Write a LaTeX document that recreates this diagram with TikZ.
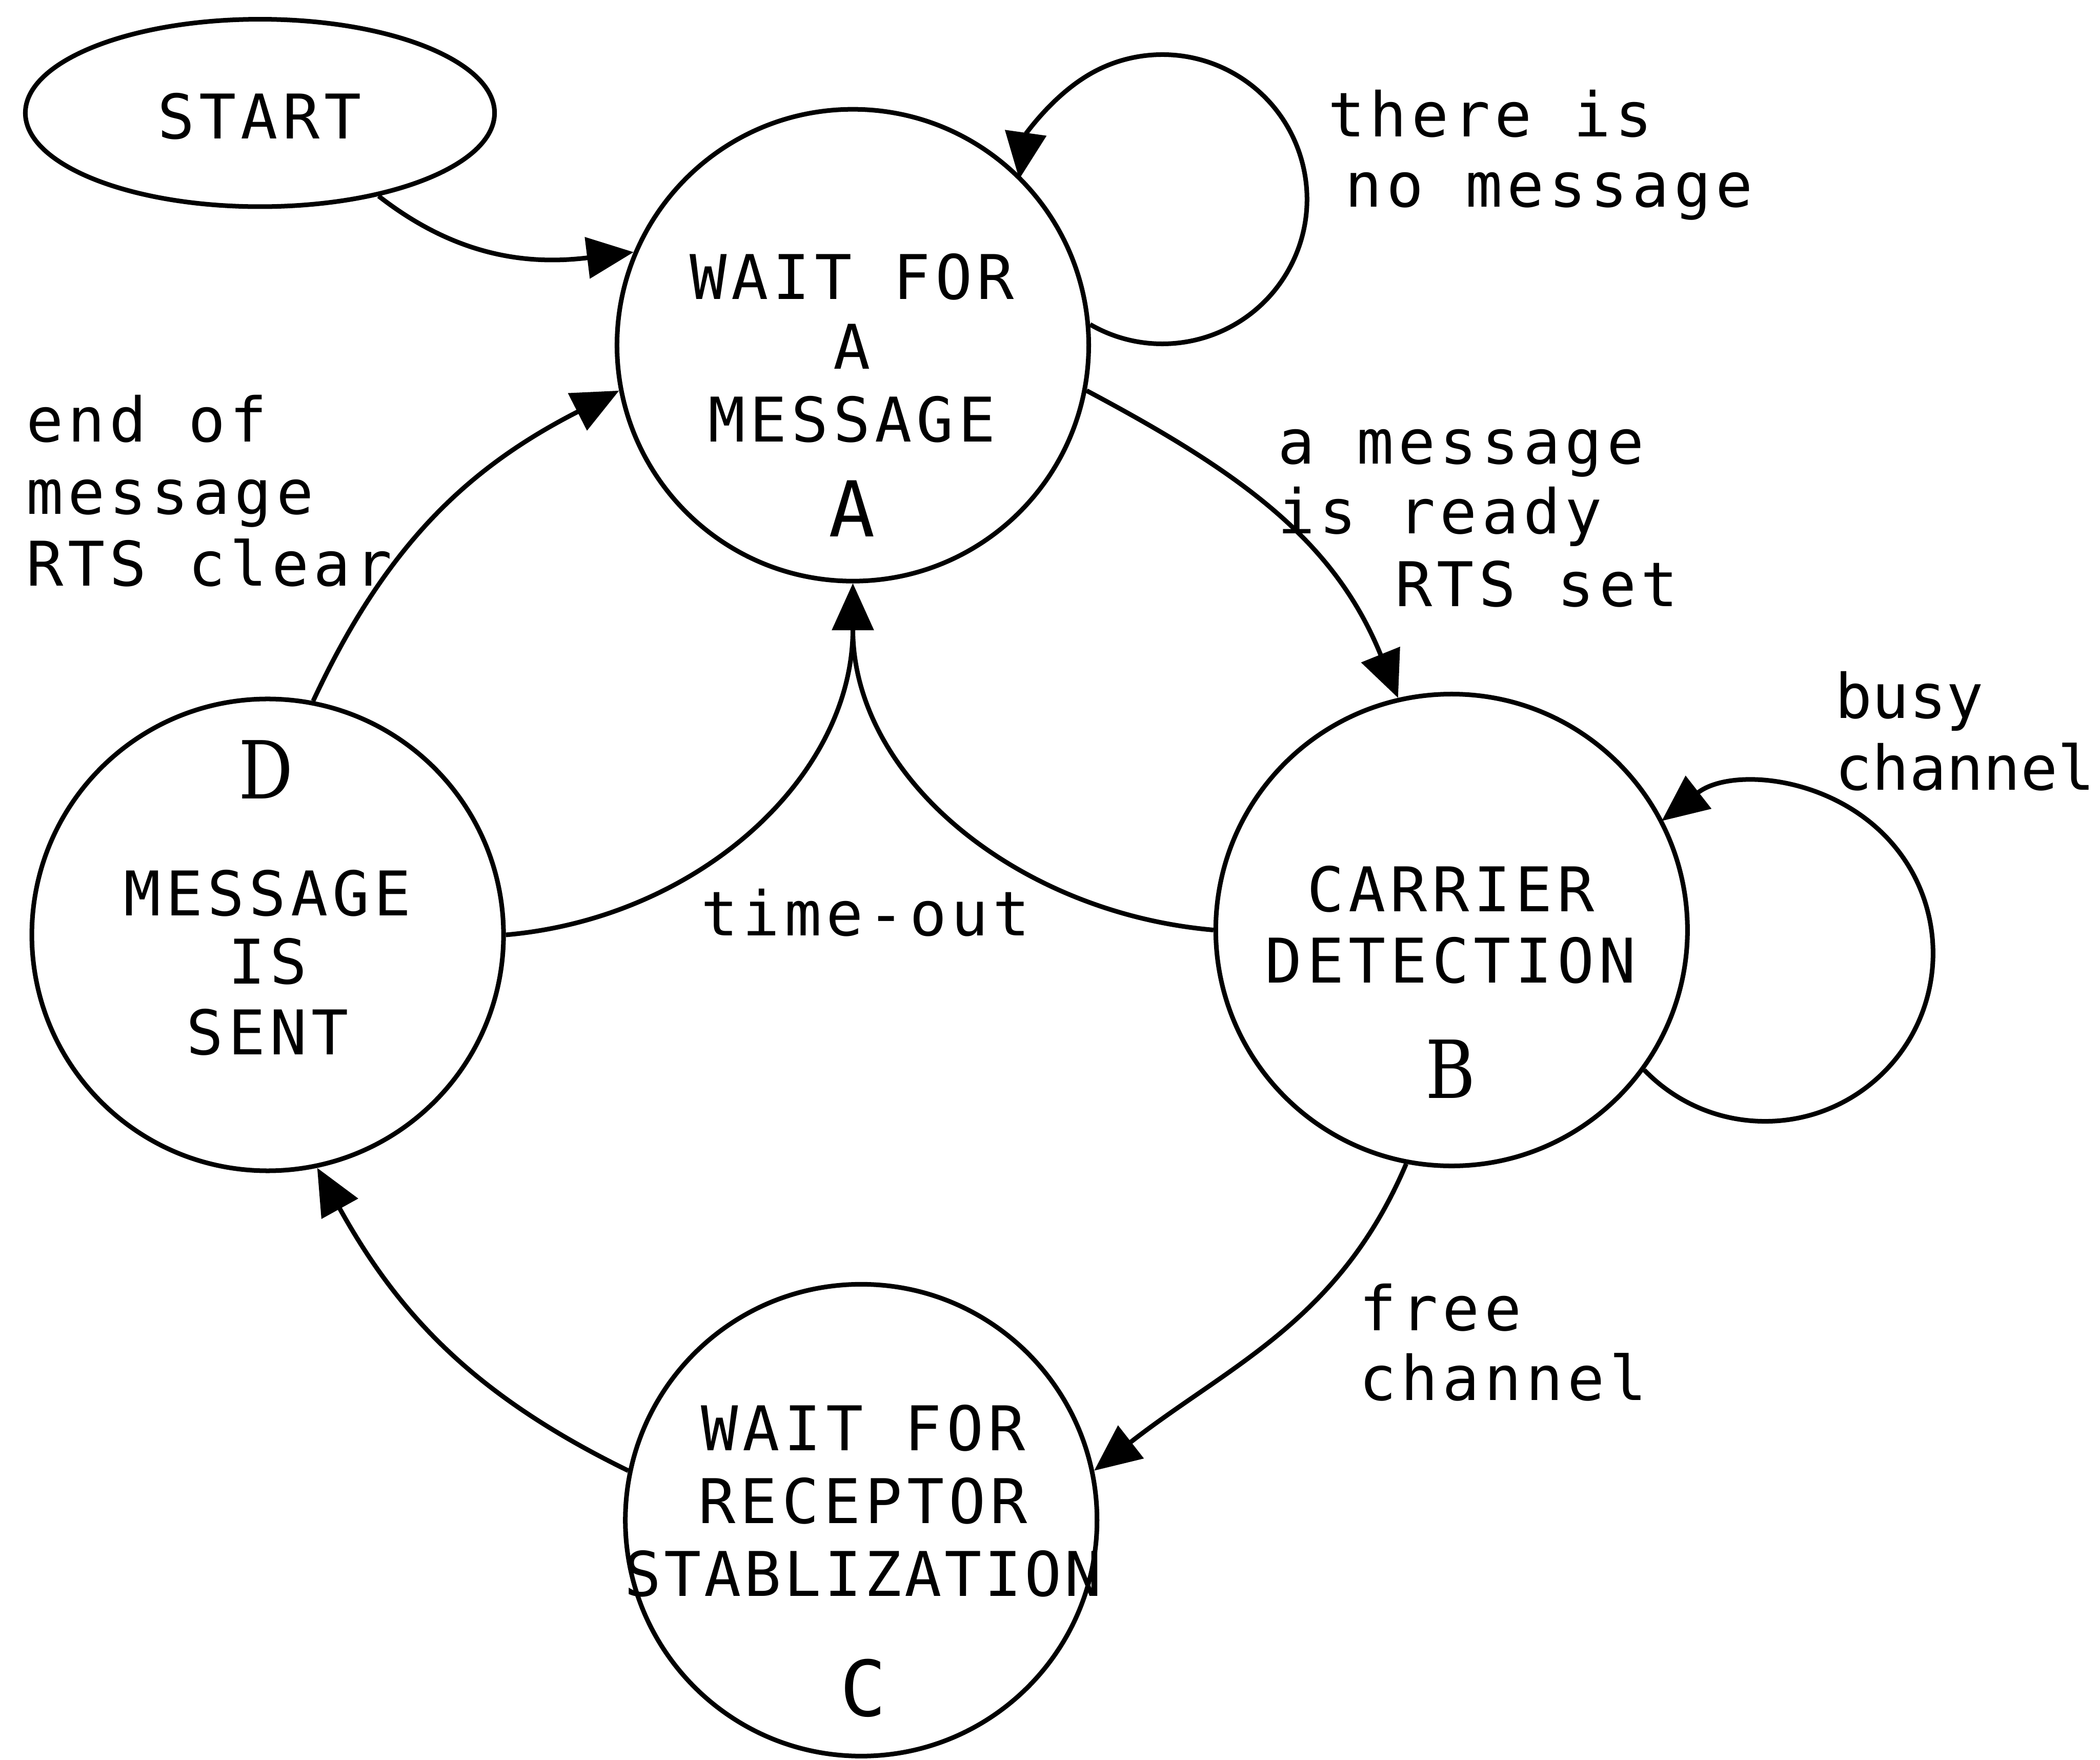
\documentclass[tikz,border=0pt]{standalone}
\usepackage{fontspec}
\usepackage{graphicx}
\usetikzlibrary{arrows.meta,shapes.geometric}
\newfontfamily\plotfont[LetterSpace=7.5]{DejaVu Sans Mono}
\newfontfamily\bigplotfont{DejaVu Sans Mono}
\newfontfamily\letterfont{DejaVu Serif}

\tikzset{
  stnode/.style={circle, draw, line width=0.9pt, minimum size=3.23cm, inner sep=0pt},
  startnode/.style={ellipse, draw, line width=0.9pt, minimum width=3.213cm, minimum height=1.283cm, inner sep=0pt},
  txt/.style={anchor=base, inner sep=0pt, font=\plotfont\fontsize{12}{14}\selectfont},
  lbl/.style={anchor=base west, inner sep=0pt, font=\plotfont\fontsize{12}{14}\selectfont},
  tightlbl/.style={lbl, font=\bigplotfont\fontsize{12}{14}\selectfont},
  bigtxt/.style={anchor=base, inner sep=0pt, font=\bigplotfont\fontsize{15}{18}\selectfont},
  sertxt/.style={anchor=base, inner sep=0pt, font=\letterfont\fontsize{15.6}{18}\selectfont},
  trans/.style={line width=0.9pt, -{Triangle[length=0.32cm,width=0.28cm]}},
}

\begin{document}
\begin{tikzpicture}
\fill[white, use as bounding box] (0,0) rectangle (14.38,-12.0467);

% states
\node[startnode] (start) at (1.78,-0.7733) {};
\node[stnode] (A) at (5.84,-2.3633) {};
\node[stnode] (B) at (9.94,-6.3667) {};
\node[stnode] (C) at (5.897,-10.407) {};
\node[stnode] (D) at (1.833,-6.4) {};

% state texts
\node[txt] (startT) at (1.777,-0.95) {START};

\node[txt] (A1) at (5.833,-2.047) {WAIT FOR};
\node[txt] (A2) at (5.833,-2.527) {A};
\node[txt] (A3) at (5.833,-3.023) {MESSAGE};
\node[bigtxt] (A4) at (5.833,-3.673) {A};

\node[txt] (B1) at (9.933,-6.24) {CARRIER};
\node[txt] (B2) at (9.933,-6.73) {DETECTION};
\node[sertxt] (B3) at (9.933,-7.517) {\scalebox{0.85}[1]{B}};

\node[txt] (C1) at (5.91,-9.93) {WAIT FOR};
\node[txt] (C2) at (5.91,-10.427) {RECEPTOR};
\node[txt] (C3) at (5.91,-10.927) {\addfontfeature{LetterSpace=4.8}STABLIZATION};
\node[bigtxt] (C4) at (5.91,-11.75) {C};

\node[sertxt] (D1) at (1.82,-5.467) {\scalebox{0.85}[1]{D}};
\node[txt] (D2) at (1.833,-6.267) {MESSAGE};
\node[txt] (D3) at (1.833,-6.737) {IS};
\node[txt] (D4) at (1.833,-7.22) {SENT};

% transitions
\draw[trans] (start.-35) to[out=-38, in=-173] (A.157);
\draw[trans] (A.5) arc[start angle=-120, end angle=172, radius=0.99cm];
\draw[trans] (A.-11) to[out=-28, in=112] (B.103);
\draw[trans] (B.-36.5) arc[start angle=-136, end angle=128, radius=1.15cm];
\draw[trans] (B.-101) to[out=-113, in=38] (C.12);
\draw[trans] (C.168) to[out=154, in=-61] (D.-78);
\draw[trans] (D.79) to[out=65, in=207] (A.191);
\draw[trans] (D.0) to[out=5, in=-90] (A.-90);
\draw[trans] (B.180) to[out=175, in=-90] (A.-90);

% transition labels
\node[lbl] (l1a) at (9.087,-0.937) {there is};
\node[lbl] (l1b) at (9.203,-1.417) {no message};

\node[lbl] (l2a) at (8.743,-3.177) {a message};
\node[lbl] (l2b) at (8.743,-3.653) {is ready};
\node[lbl] (l2c) at (9.547,-4.153) {RTS set};

\node[tightlbl] (l3a) at (12.56,-4.917) {busy};
\node[tightlbl] (l3b) at (12.56,-5.407) {channel};

\node[lbl] (l4a) at (0.173,-3.023) {end of};
\node[lbl] (l4b) at (0.173,-3.52) {message};
\node[lbl] (l4c) at (0.173,-4.01) {RTS clear};

\node[txt] (l5) at (5.927,-6.407) {time-out};

\node[lbl] (l6a) at (9.3,-9.107) {free};
\node[lbl] (l6b) at (9.3,-9.587) {channel};
\end{tikzpicture}
\end{document}
